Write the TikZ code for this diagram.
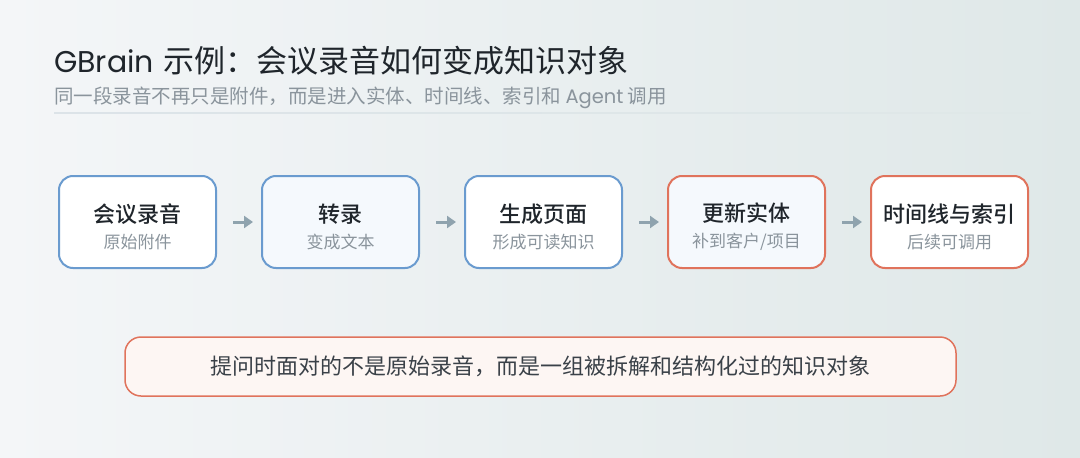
\documentclass[tikz,border=0pt]{standalone}
\usepackage{fontspec}
\setmainfont{Noto Sans CJK SC}
\newfontfamily\latin{Poppins}
\newfontfamily\medfont{Noto Sans CJK SC Medium}
\usetikzlibrary{positioning,arrows.meta}

\definecolor{ink}{HTML}{1F252B}
\definecolor{subgray}{HTML}{8A949C}
\definecolor{edgeblue}{HTML}{6A9BCF}
\definecolor{edgered}{HTML}{E0735C}
\definecolor{paleblue}{HTML}{F5F9FD}
\definecolor{palered}{HTML}{FDF6F3}
\definecolor{arrowgray}{HTML}{8FA3AE}
\definecolor{bgleft}{HTML}{F4F6F8}
\definecolor{bgright}{HTML}{DFE8E8}
\definecolor{rulec}{HTML}{DCE3E8}
\definecolor{notetext}{HTML}{3A4148}

\tikzset{
  stage/.style={draw, rounded corners=14pt, line width=2pt, fill=white,
    minimum width=157pt, minimum height=92pt, inner sep=0pt, align=center,
    font=\fontsize{17}{26}\selectfont},
  bluebox/.style={stage, draw=edgeblue},
  redbox/.style={stage, draw=edgered},
  flow/.style={-{Triangle[length=9pt,width=12pt]}, line width=3pt, draw=arrowgray,
    shorten <=16pt, shorten >=8pt},
  note/.style={draw=edgered, line width=1.5pt, fill=palered, rounded corners=16pt,
    minimum width=831pt, minimum height=59pt, text=notetext,
    font=\fontsize{22}{26}\selectfont}
}
\newcommand\stg[2]{\rule{0pt}{28pt}{\fontsize{22}{26}\selectfont\medfont\color{ink}#1}\\{\color{subgray}#2}}

\begin{document}
\begin{tikzpicture}[x=1pt,y=-1pt]
  \useasboundingbox (0,0) rectangle (1080,458);
  \shade[left color=bgleft, right color=bgright] (0,0) rectangle (1080,458);

  % heading
  \node[anchor=base west, inner sep=0pt, text=ink] (title) at (54,72)
    {{\latin\fontsize{30}{36}\selectfont GBrain\hspace{10pt}}{\fontsize{31}{36}\selectfont 示例：会议录音如何变成知识对象}};
  \node[anchor=base west, inner sep=0pt, text=subgray] (subtitle) at (54,103)
    {\fontsize{19.5}{22}\selectfont 同一段录音不再只是附件，而是进入实体、时间线、索引和 {\latin Agent} 调用};
  \shade[left color=rulec, right color=bgright] (54,112.5) rectangle (1030,113.5);

  % pipeline
  \node[bluebox] (rec) at (137.5,222) {\stg{会议录音}{原始附件}};
  \node[bluebox, fill=paleblue, right=44pt of rec] (trans) {\stg{转录}{变成文本}};
  \node[bluebox, right=44pt of trans] (page) {\stg{生成页面}{形成可读知识}};
  \node[redbox, fill=paleblue, right=44pt of page] (entity) {\stg{更新实体}{补到客户/项目}};
  \node[redbox, right=44pt of entity] (index) {\stg{时间线与索引}{后续可调用}};

  \draw[flow] (rec) -- (trans);
  \draw[flow] (trans) -- (page);
  \draw[flow] (page) -- (entity);
  \draw[flow] (entity) -- (index);

  % takeaway
  \node[note] (takeaway) at (540.5,366.5) {提问时面对的不是原始录音，而是一组被拆解和结构化过的知识对象};
\end{tikzpicture}
\end{document}
